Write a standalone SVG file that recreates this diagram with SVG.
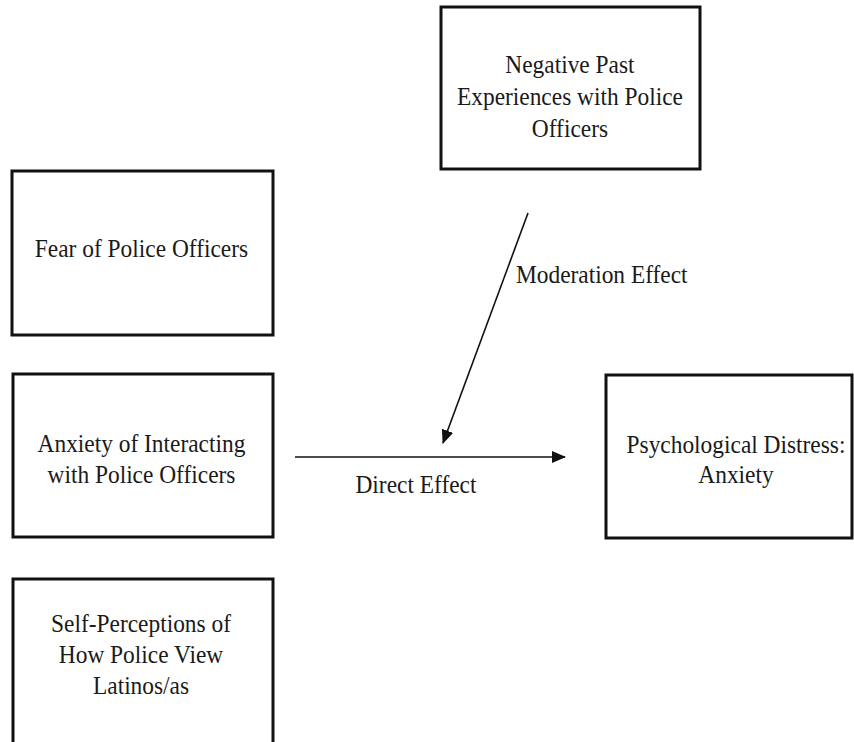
<svg xmlns="http://www.w3.org/2000/svg" width="854" height="742" viewBox="0 0 854 742">
<style>
  .box { fill: #ffffff; stroke: #111111; stroke-width: 3; }
  .lbl { font-family: "Liberation Serif", "Times New Roman", serif; font-size: 26px; fill: #1a1a1a; text-anchor: middle; }
  .edge { stroke: #111111; stroke-width: 1.6; fill: none; marker-end: url(#arr); }
</style>
<defs>
  <marker id="arr" markerWidth="14" markerHeight="12" refX="13" refY="6" orient="auto" markerUnits="userSpaceOnUse">
    <path d="M0,0 L14,6 L0,12 Z" fill="#111111"/>
  </marker>
</defs>
<rect width="854" height="742" fill="#ffffff"/>

<g id="negative-past">
  <rect class="box" x="441" y="7" width="259" height="162"/>
  <g transform="scale(0.9 1)">
    <text class="lbl" x="633.3" y="73">Negative Past</text>
    <text class="lbl" x="633.3" y="105">Experiences with Police</text>
    <text class="lbl" x="633.3" y="137">Officers</text>
  </g>
</g>

<g id="fear">
  <rect class="box" x="12" y="171" width="261" height="164"/>
  <g transform="scale(0.9 1)">
    <text class="lbl" x="157.2" y="257">Fear of Police Officers</text>
  </g>
</g>

<g id="anxiety-interacting">
  <rect class="box" x="13" y="374" width="260" height="163"/>
  <g transform="scale(0.9 1)">
    <text class="lbl" x="157.2" y="452">Anxiety of Interacting</text>
    <text class="lbl" x="157.2" y="483">with Police Officers</text>
  </g>
</g>

<g id="psych-distress">
  <rect class="box" x="606" y="375" width="246" height="163"/>
  <g transform="scale(0.9 1)">
    <text class="lbl" x="817.8" y="453">Psychological Distress:</text>
    <text class="lbl" x="817.8" y="483">Anxiety</text>
  </g>
</g>

<g id="self-perceptions">
  <rect class="box" x="13" y="579" width="260" height="175"/>
  <g transform="scale(0.9 1)">
    <text class="lbl" x="156.7" y="632">Self-Perceptions of</text>
    <text class="lbl" x="156.7" y="663">How Police View</text>
    <text class="lbl" x="156.7" y="694">Latinos/as</text>
  </g>
</g>

<g id="connectors">
  <line class="edge" x1="295" y1="457" x2="565" y2="457"/>
  <line class="edge" x1="528" y1="213" x2="443" y2="443"/>
  <g transform="scale(0.9 1)">
    <text class="lbl" x="573.3" y="283" style="text-anchor:start">Moderation Effect</text>
    <text class="lbl" x="462.2" y="493">Direct Effect</text>
  </g>
</g>
</svg>
